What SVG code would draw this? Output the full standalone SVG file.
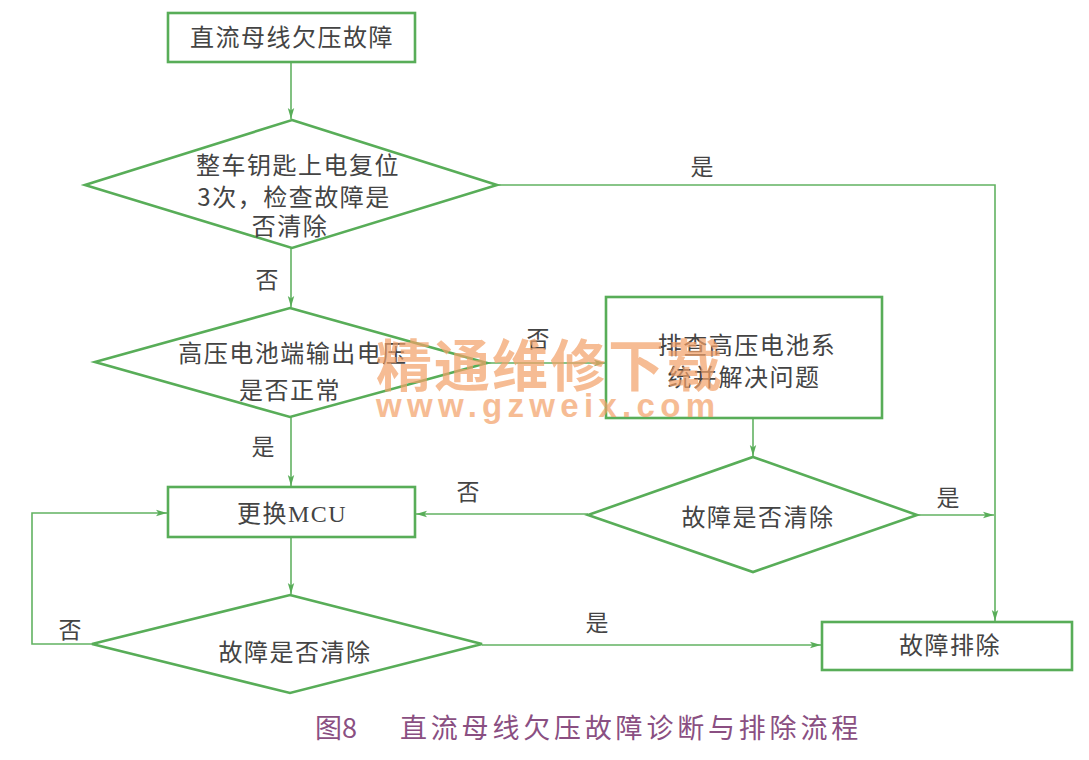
<svg xmlns="http://www.w3.org/2000/svg" width="1089" height="760" viewBox="0 0 1089 760">
<style>
.node{fill:#ffffff;stroke:#58ad58;stroke-width:2.6}
.conn{fill:none;stroke:#62b262;stroke-width:1.6}
.t{font-family:"Noto Sans CJK SC","Noto Sans",sans-serif;font-size:24px;fill:#444444;text-anchor:middle;letter-spacing:1.5px}
.lbl{font-family:"Noto Sans CJK SC","Noto Sans",sans-serif;font-size:23px;fill:#444444;text-anchor:middle}
.cap{font-family:"Noto Sans CJK SC","Noto Sans",sans-serif;font-size:27px;fill:#8a4f82}
.wm{font-family:"Noto Sans CJK SC","Noto Sans",sans-serif;font-weight:bold;fill:#f3a168;opacity:0.7}
.wm2{font-family:"Liberation Sans",Arial,sans-serif;font-weight:bold;fill:#f3a168;opacity:0.7}
</style>
<defs>
<marker id="ah" markerWidth="12" markerHeight="8" refX="11" refY="4" orient="auto" markerUnits="userSpaceOnUse">
<path d="M0,0.8 L11,4 L0,7.2 L2.5,4 Z" fill="#58ad58"/>
</marker>
</defs>
<rect width="1089" height="760" fill="#ffffff"/>

<g id="connectors">
<path class="conn" d="M291,62 L291,119" marker-end="url(#ah)"/>
<path class="conn" d="M497,185 L995,185 L995,621" marker-end="url(#ah)"/>
<path class="conn" d="M291,248 L291,307" marker-end="url(#ah)"/>
<path class="conn" d="M487,363 L605,363" marker-end="url(#ah)"/>
<path class="conn" d="M291,417 L291,486" marker-end="url(#ah)"/>
<path class="conn" d="M753,418 L753,456" marker-end="url(#ah)"/>
<path class="conn" d="M588,514 L416,514" marker-end="url(#ah)"/>
<path class="conn" d="M917,515 L994,515" marker-end="url(#ah)"/>
<path class="conn" d="M291,537 L291,594" marker-end="url(#ah)"/>
<path class="conn" d="M92,644 L32,644 L32,513 L167,513" marker-end="url(#ah)"/>
<path class="conn" d="M482,645 L821,645" marker-end="url(#ah)"/>
<text class="lbl" x="267" y="288">否</text>
<text class="lbl" x="702" y="175">是</text>
<text class="lbl" x="538" y="347">否</text>
<text class="lbl" x="263" y="455">是</text>
<text class="lbl" x="468" y="500">否</text>
<text class="lbl" x="948" y="506">是</text>
<text class="lbl" x="70" y="638">否</text>
<text class="lbl" x="597" y="631">是</text>
</g>

<g id="start">
<rect class="node" x="168" y="13" width="247" height="49"/>
<text class="t" x="292" y="46">直流母线欠压故障</text>
</g>

<g id="d1">
<polygon class="node" points="292,120 497,185 292,248 85,185"/>
<text class="t" x="298" y="174">整车钥匙上电复位</text>
<text class="t" x="294" y="206">3次，检查故障是</text>
<text class="t" x="290" y="235">否清除</text>
</g>

<g id="d2">
<polygon class="node" points="290,308 487,363 290,417 95,362"/>
<text class="t" x="293" y="362">高压电池端输出电压</text>
<text class="t" x="290" y="399">是否正常</text>
</g>

<g id="check">
<rect class="node" x="606" y="297" width="276" height="121"/>
<text class="t" x="747" y="354">排查高压电池系</text>
<text class="t" x="744" y="386">统并解决问题</text>
</g>

<g id="d4">
<polygon class="node" points="753,457 917,515 753,572 588,515"/>
<text class="t" x="758" y="526">故障是否清除</text>
</g>

<g id="mcu">
<rect class="node" x="168" y="487" width="247" height="50"/>
<text class="t" x="292" y="522">更换<tspan font-family="'Liberation Serif',serif">MCU</tspan></text>
</g>

<g id="d3">
<polygon class="node" points="290,595 482,644 290,693 92,644"/>
<text class="t" x="295" y="661">故障是否清除</text>
</g>

<g id="end">
<rect class="node" x="822" y="622" width="250" height="48"/>
<text class="t" x="950" y="654">故障排除</text>
</g>

<g id="watermark">
<text class="wm" x="376" y="386" font-size="56" textLength="346" lengthAdjust="spacing">精通维修下载</text>
<text class="wm2" x="376" y="417" font-size="33" textLength="339" lengthAdjust="spacing">www.gzweix.com</text>
</g>

<g id="caption">
<text class="cap" y="738"><tspan x="315">图8</tspan><tspan x="400" letter-spacing="3.8">直流母线欠压故障诊断与排除流程</tspan></text>
</g>
</svg>
